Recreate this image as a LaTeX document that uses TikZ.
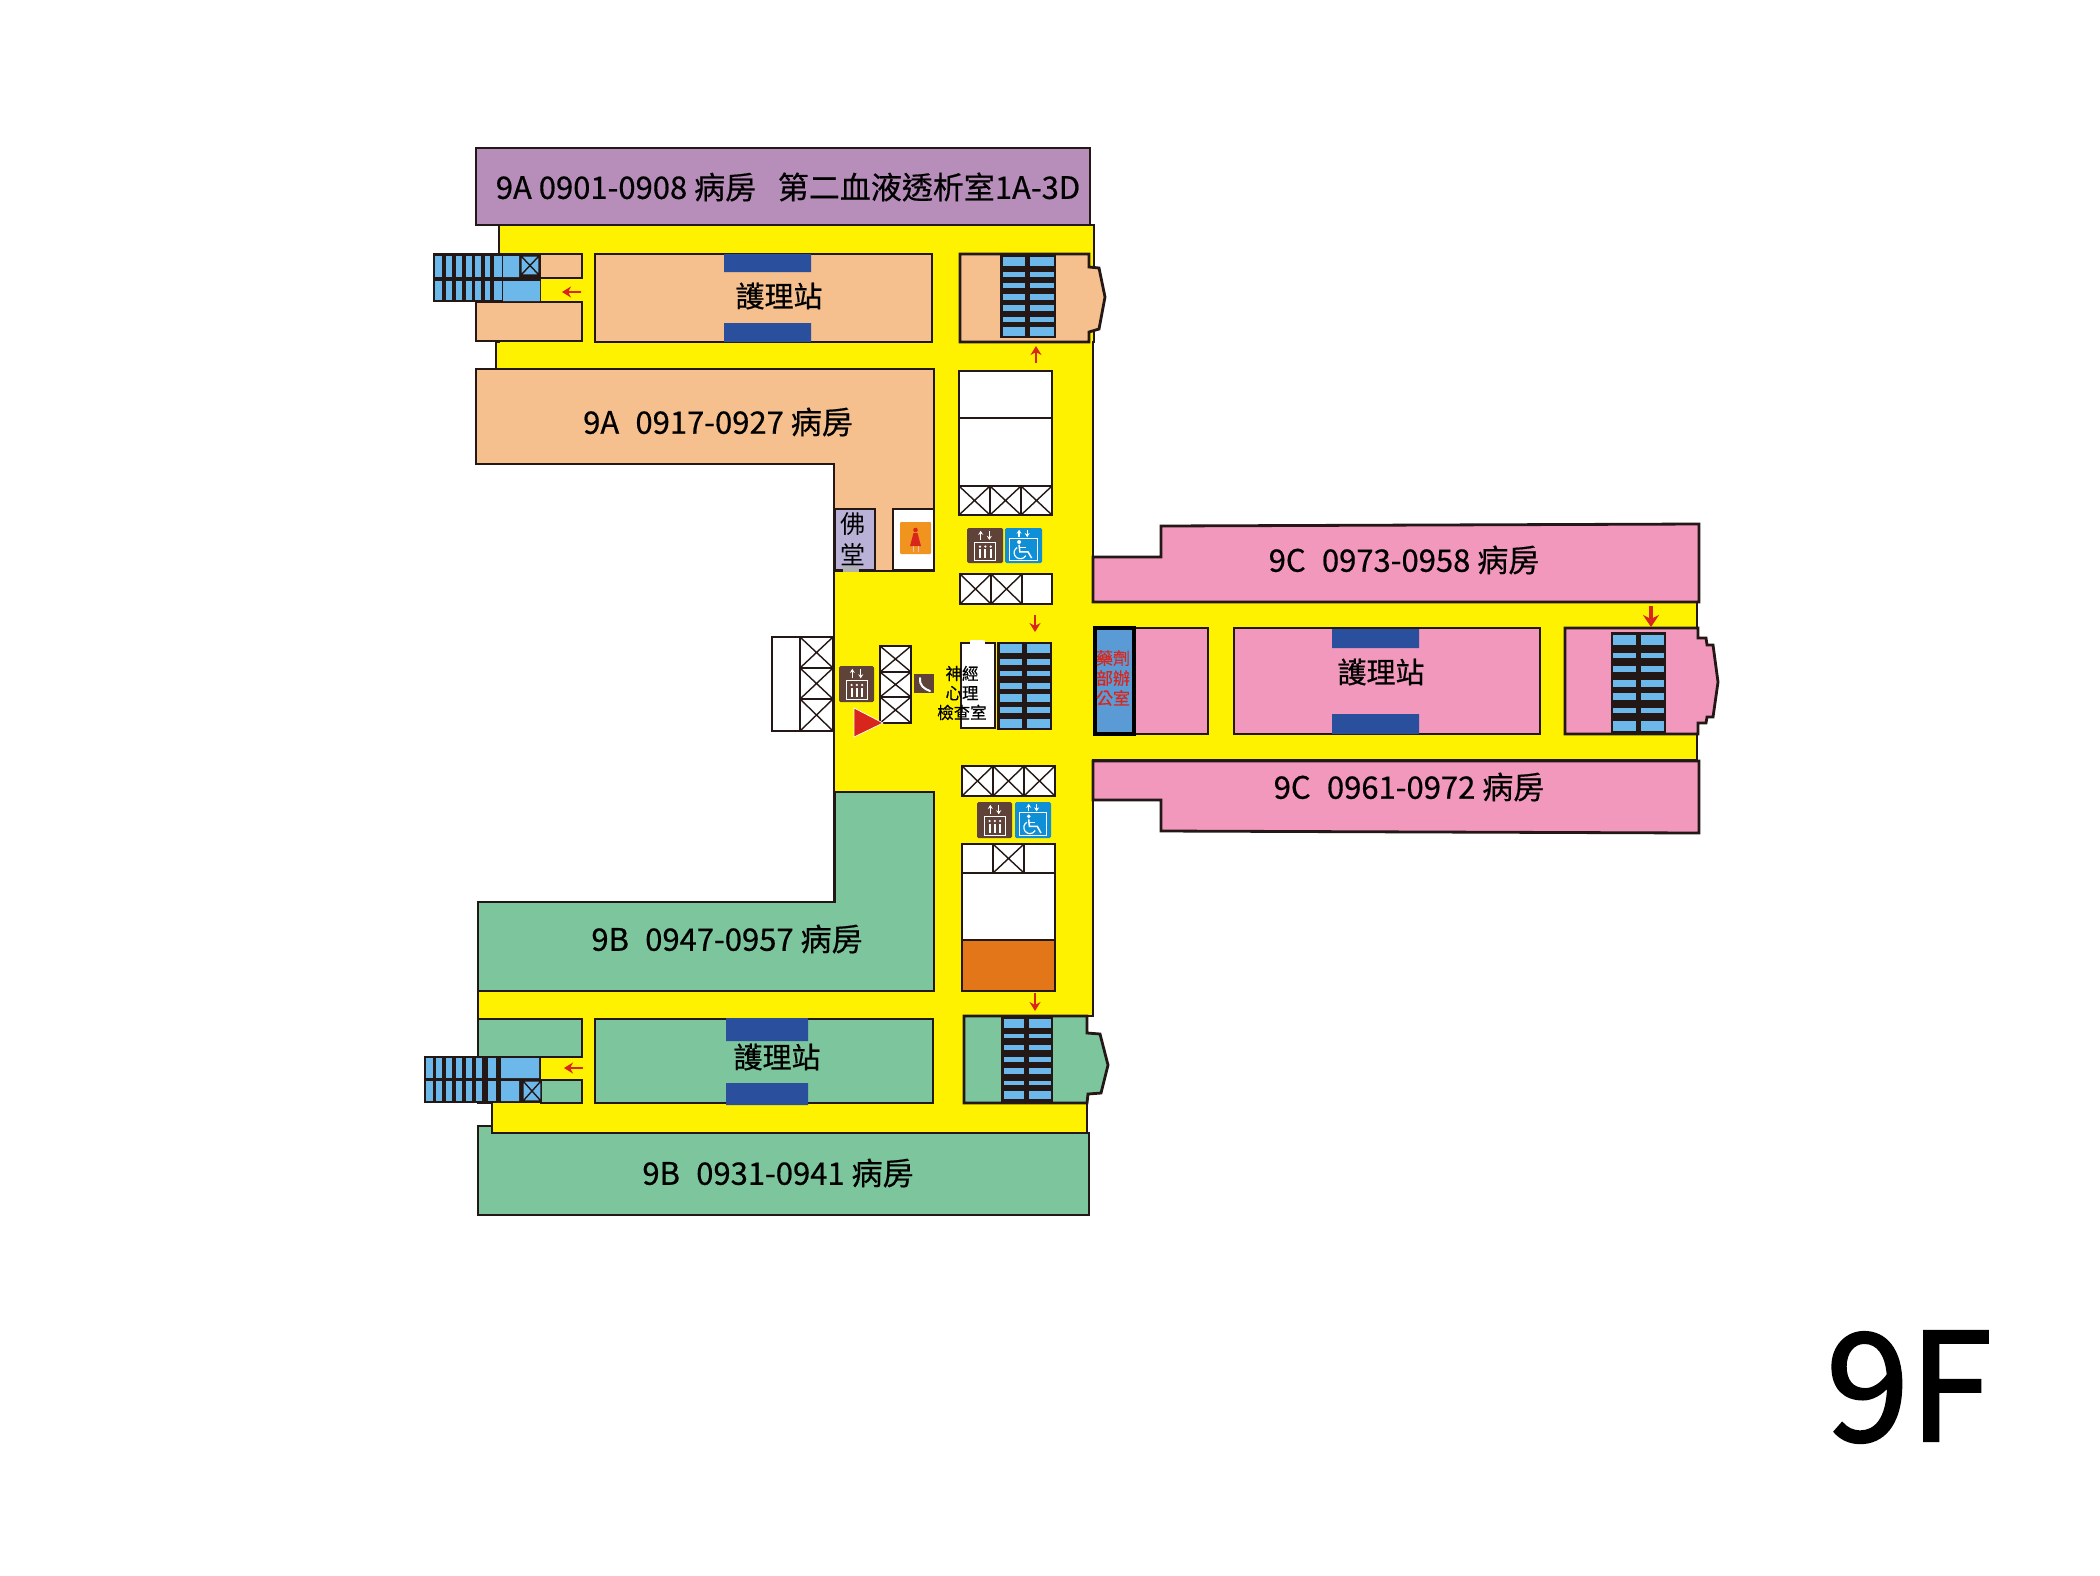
\documentclass[tikz,border=0pt]{standalone}
\usepackage{fontspec}
\setmainfont{Noto Sans CJK TC}
\newfontfamily\medf[FakeBold=0.5]{Noto Sans CJK TC}
\newfontfamily\heavyf[FakeBold=1.6]{Noto Sans CJK TC}
\usetikzlibrary{arrows.meta}
\definecolor{cpurple}{HTML}{B78DB9}
\definecolor{cyellow}{HTML}{FFF200}
\definecolor{cpeach}{HTML}{F5BF8E}
\definecolor{cgreen}{HTML}{7DC59C}
\definecolor{cpink}{HTML}{F298BC}
\definecolor{cstair}{HTML}{6DB8EA}
\definecolor{cnavy}{HTML}{2A4F9C}
\definecolor{cbrown}{HTML}{5F4339}
\definecolor{cicon}{HTML}{0F8FD6}
\definecolor{csign}{HTML}{F0941F}
\definecolor{cdrug}{HTML}{5B9BD5}
\definecolor{cred}{HTML}{D9261C}
\definecolor{corange}{HTML}{E4761A}
\definecolor{clav}{HTML}{B9B2D6}
\definecolor{cink}{HTML}{231815}
\tikzset{
  wall/.style={draw=cink,line width=2.8pt,line join=miter},
  thinwall/.style={draw=cink,line width=1.4pt},
  redarrow/.style={draw=cred,line width=2.6pt,-{Stealth[length=9pt,width=11pt]}},
  label/.style={inner sep=0pt,text=black},
  iconline/.style={draw=white,line width=1pt}
}
\newcommand{\xcell}[5][white]{%
  \draw[wall,fill=#1] (#2,#3) rectangle (#4,#5);
  \draw[thinwall] (#2,#3) -- (#4,#5) (#2,#5) -- (#4,#3);}
\newcommand{\liftsign}[4]{%
  \begin{scope}[shift={(#1,#2)},x=#3pt,y=-#4pt]
    \fill[cbrown,rounded corners=1.5pt] (0,0) rectangle (100,100);
    \draw[iconline] (22,40) rectangle (80,92);
    \draw[iconline,line width=1.3pt,-{Stealth[length=4pt,width=5pt]}] (38,34) -- (38,8);
    \draw[iconline,line width=1.3pt,-{Stealth[length=4pt,width=5pt]}] (62,8) -- (62,34);
    \foreach \q in {36,51,66}{\fill[white] (\q-3,60) rectangle (\q+3,85);\fill[white] (\q,53) circle (3.5);}
  \end{scope}}
\newcommand{\chairsign}[4]{%
  \begin{scope}[shift={(#1,#2)},x=#3pt,y=-#4pt]
    \fill[cicon,rounded corners=1.5pt] (0,0) rectangle (100,100);
    \draw[iconline,line width=0.5pt] (12,28) rectangle (88,92);
    \draw[iconline,line width=1.3pt,-{Stealth[length=4pt,width=5pt]}] (38,26) -- (38,5);
    \draw[iconline,line width=1.3pt,-{Stealth[length=4pt,width=5pt]}] (60,5) -- (60,26);
    \fill[white] (38,40) circle (5.5);
    \draw[iconline,line width=1.5pt] (38,48) -- (40,68) -- (62,68) -- (72,86);
    \draw[iconline,line width=1.2pt] (38,56) -- (56,56);
    \draw[iconline,line width=1.2pt] (33,56) arc[start angle=240,end angle=30,radius=17];
  \end{scope}}
\begin{document}
\begin{tikzpicture}[x=1pt,y=-1pt]
\useasboundingbox (0,0) rectangle (2100,1575);
\fill[white] (0,0) rectangle (2100,1575);

% corridor
\path[wall,fill=cyellow] (499,225) -- (1094,225) -- (1094,342) -- (1093,342) -- (1093,602) -- (1697,602) -- (1697,760) -- (1093,760) -- (1093,1016) -- (1087,1016) -- (1087,1133) -- (492,1133) -- (492,1103) -- (478,1103) -- (478,991) -- (834,991) -- (834,570) -- (834,369) -- (496,369) -- (496,342) -- (499,342) -- cycle;

% wards
\path[wall,fill=cpurple] (476,148) rectangle (1090,225);
\path[wall,fill=cpeach] (476,369) -- (934,369) -- (934,571) -- (834,571) -- (834,464) -- (476,464) -- cycle;
\path[wall,fill=cgreen] (835,792) -- (934,792) -- (934,991) -- (478,991) -- (478,902) -- (835,902) -- cycle;
\path[wall,fill=cgreen] (478,1126) -- (492,1126) -- (492,1133) -- (1089,1133) -- (1089,1215) -- (478,1215) -- cycle;
\path[wall,fill=cpink] (1093,557) -- (1161,557) -- (1161,526) -- (1699,524) -- (1699,602) -- (1093,602) -- cycle;
\path[wall,fill=cpink] (1093,761) -- (1699,761) -- (1699,833) -- (1161,831) -- (1161,800) -- (1093,800) -- cycle;

% top block rooms
\path[wall,fill=cpeach] (595,254) rectangle (932,342);
\fill[cnavy] (724,254) rectangle (811,272) (724,323) rectangle (811,342);
\path[wall,fill=cpeach] (540,254) rectangle (582,278);
\path[wall,fill=cpeach] (476,302) rectangle (582,341);
\path[wall,fill=cpeach] (960,254) -- (1089,254) -- (1089,267) -- (1099,268) -- (1105,297) -- (1099,329) -- (1089,332) -- (1089,342) -- (960,342) -- cycle;

% top-left stairs
\fill[cink] (433,253) rectangle (541,302);
\foreach \a/\b in {435/442,446/452,456/462,466/472,475/481,485/490,494/502}{
  \fill[cstair] (\a,256) rectangle (\b,277);
  \fill[cstair] (\a,281) rectangle (\b,300);}
\fill[cstair] (503,256) rectangle (519,277) (503,281) rectangle (540,301);
\fill[cstair] (521,256) rectangle (539,275);
\draw[thinwall] (521,256) rectangle (539,275) (521,256) -- (539,275) (521,275) -- (539,256);

% top-right stairs
\fill[cink] (1000,255) rectangle (1056,338);
\foreach \a/\b in {257/266,272/277,283/288,294/300,305/311,317/322,327/336}{
  \fill[cstair] (1003,\a) rectangle (1025,\b);
  \fill[cstair] (1030,\a) rectangle (1054,\b);}

% north service core
\path[wall,fill=white] (959,371) rectangle (1052,418);
\path[wall,fill=white] (959,418) rectangle (1052,486);
\xcell{959}{486}{990}{515}
\xcell{990}{486}{1021}{515}
\xcell{1021}{486}{1052}{515}
\liftsign{967}{528}{0.36}{0.35}
\chairsign{1005}{528}{0.37}{0.35}
\xcell{960}{574}{991}{604}
\xcell{991}{574}{1022}{604}
\path[wall,fill=white] (1022,574) rectangle (1052,604);

% shrine and restroom
\path[wall,fill=clav] (835,509) rectangle (875,570);
\fill[gray!60] (843,566) rectangle (859,572);
\path[wall,fill=white] (893,509) rectangle (934,570);
\fill[csign,rounded corners=1pt] (900,522) rectangle (931,554);
\fill[cred] (915.5,530) circle (2.3);
\fill[cred] (913.5,533) -- (917.5,533) -- (921,546) -- (910,546) -- cycle;
\draw[cred!30!white,line width=0.8pt] (913,546) -- (913,552) (918,546) -- (918,552);

% west lobby block
\path[wall,fill=white] (772,637) rectangle (800,731);
\xcell{800}{637}{833}{668}
\xcell{800}{668}{833}{699}
\xcell{800}{699}{833}{731}
\liftsign{839}{666}{0.35}{0.36}
\xcell{880}{646}{911}{672}
\xcell{880}{672}{911}{697}
\xcell{880}{697}{911}{723}
\fill[cbrown] (914,674) rectangle (934,693);
\draw[white,line width=2pt,line cap=round] (920,678) .. controls (919,685) and (924,689) .. (930,691);
\path[draw=white,line width=0.7pt,fill=cred] (854,708) -- (883,723) -- (854,737) -- cycle;

% centre stairs and test room
\path[wall,fill=white] (961,643) rectangle (995,728);
\fill[white] (970,640) rectangle (985,645);
\fill[cink] (997,642) rectangle (1052,730);
\foreach \a/\b in {644/653,659/665,671/676,683/689,694/702,707/713,719/728}{
  \fill[cstair] (1000,\a) rectangle (1022,\b);
  \fill[cstair] (1027,\a) rectangle (1050,\b);}

% east wing rooms
\path[wall,fill=cpink] (1134,628) rectangle (1208,734);
\path[draw=black,line width=4.5pt,fill=cdrug] (1095,628) rectangle (1134,734);
\path[wall,fill=cpink] (1234,628) rectangle (1540,734);
\fill[cnavy] (1332,629) rectangle (1419,648) (1332,714) rectangle (1419,734);
\path[wall,fill=cpink] (1565,628) -- (1698,628) -- (1698,638) -- (1706,638) -- (1707,645) -- (1713,645) -- (1718,682) -- (1713,717) -- (1707,717) -- (1706,723) -- (1698,723) -- (1698,734) -- (1565,734) -- cycle;
\fill[cink] (1611,632) rectangle (1666,733);
\foreach \a/\b in {635/645,653/658,666/672,680/687,693/700,708/713,721/731}{
  \fill[cstair] (1613,\a) rectangle (1636,\b);
  \fill[cstair] (1641,\a) rectangle (1664,\b);}

% south service core
\xcell{962}{766}{993}{796}
\xcell{993}{766}{1024}{796}
\xcell{1024}{766}{1055}{796}
\liftsign{977}{802}{0.35}{0.36}
\chairsign{1015}{802}{0.36}{0.36}
\path[wall,fill=white] (962,844) rectangle (993,873);
\xcell{993}{844}{1024}{873}
\path[wall,fill=white] (1024,844) rectangle (1055,873);
\path[wall,fill=white] (962,873) rectangle (1055,940);
\path[wall,fill=corange] (962,940) rectangle (1055,991);

% bottom block rooms
\path[wall,fill=cgreen] (595,1019) rectangle (933,1103);
\fill[cnavy] (726,1018) rectangle (808,1041) (726,1083) rectangle (808,1105);
\path[wall,fill=cgreen] (478,1019) -- (582,1019) -- (582,1057) -- (478,1057) -- cycle;
\path[wall,fill=cgreen] (541,1080) rectangle (582,1103);
\path[wall,fill=cgreen] (964,1016) -- (1087,1016) -- (1087,1033) -- (1100,1034) -- (1108,1065) -- (1101,1093) -- (1088,1094) -- (1087,1103) -- (964,1103) -- cycle;

\fill[cink] (424,1056) rectangle (541,1103);
\foreach \a/\b in {426/433,436/442,446/452,456/462,466/472,476/482,488/496}{
  \fill[cstair] (\a,1058) rectangle (\b,1078);
  \fill[cstair] (\a,1081) rectangle (\b,1101);}
\fill[cstair] (501,1058) rectangle (539,1078) (501,1081) rectangle (519,1101);
\fill[cstair] (523,1081) rectangle (541,1101);
\draw[thinwall] (523,1081) rectangle (541,1101) (523,1081) -- (541,1101) (523,1101) -- (541,1081);

\fill[cink] (1001,1017) rectangle (1053,1103);
\foreach \a/\b in {1019/1028,1034/1038,1045/1050,1057/1062,1068/1074,1081/1085,1091/1099}{
  \fill[cstair] (1004,\a) rectangle (1024,\b);
  \fill[cstair] (1029,\a) rectangle (1051,\b);}

% arrows
\coordinate (a1s) at (581,292); \coordinate (a1e) at (562,292);
\coordinate (a2s) at (1036,363); \coordinate (a2e) at (1036,346);
\coordinate (a3s) at (1035,615); \coordinate (a3e) at (1035,632);
\coordinate (a4s) at (1035,993); \coordinate (a4e) at (1035,1011);
\coordinate (a5s) at (583,1068); \coordinate (a5e) at (564,1068);
\coordinate (a6s) at (1651,606); \coordinate (a6e) at (1651,627);
\draw[redarrow] (a1s) -- (a1e);
\draw[redarrow] (a2s) -- (a2e);
\draw[redarrow] (a3s) -- (a3e);
\draw[redarrow] (a4s) -- (a4e);
\draw[redarrow] (a5s) -- (a5e);
\draw[redarrow,line width=3.5pt,-{Stealth[length=12pt,width=16pt]}] (a6s) -- (a6e);

% labels
\node[label,font=\medf\fontsize{31}{33}\selectfont] (t1) at (788,187) {9A 0901-0908 病房\hspace{0.7em}第二血液透析室1A-3D};
\node[label,font=\medf\fontsize{31}{33}\selectfont] (t2) at (718,422) {9A\hspace{0.3em} 0917-0927 病房};
\node[label,font=\medf\fontsize{31}{33}\selectfont] (t3) at (727,939) {9B\hspace{0.3em} 0947-0957 病房};
\node[label,font=\medf\fontsize{31}{33}\selectfont] (t4) at (778,1173) {9B\hspace{0.3em} 0931-0941 病房};
\node[label,font=\medf\fontsize{31}{33}\selectfont] (t5) at (1404,560) {9C\hspace{0.3em} 0973-0958 病房};
\node[label,font=\medf\fontsize{31}{33}\selectfont] (t6) at (1409,787) {9C\hspace{0.3em} 0961-0972 病房};
\node[label,font=\medf\fontsize{29}{31}\selectfont] (n1) at (779,296) {護理站};
\node[label,font=\medf\fontsize{29}{31}\selectfont] (n2) at (777,1057) {護理站};
\node[label,font=\medf\fontsize{29}{31}\selectfont] (n3) at (1381,672) {護理站};
\node[label,font=\fontsize{25}{31}\selectfont,align=center] (h1) at (853,539) {佛\\堂};
\node[label,font=\medf\fontsize{16.5}{19.5}\selectfont,align=center] (h2) at (962,693) {神經\\心理\\檢查室};
\node[label,text=cred,font=\medf\fontsize{17}{20}\selectfont,align=center] (h3) at (1113,678) {藥劑\\部辦\\公室};
\node[label,font=\heavyf\fontsize{150}{150}\selectfont] (f1) at (1909,1387) {9F};
\end{tikzpicture}
\end{document}
